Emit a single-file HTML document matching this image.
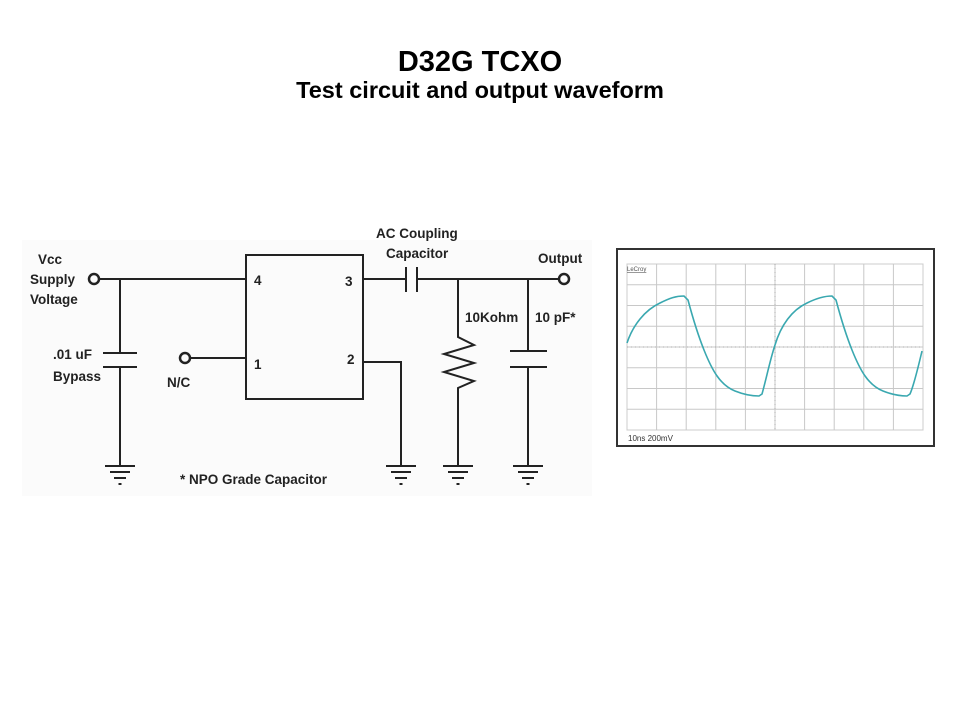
<!DOCTYPE html>
<html><head><meta charset="utf-8"><style>
html,body{margin:0;padding:0;background:#fff;width:960px;height:720px;overflow:hidden}
</style></head><body>
<svg width="960" height="720" xmlns="http://www.w3.org/2000/svg" font-family="Liberation Sans, sans-serif">
<text x="480" y="71" text-anchor="middle" font-size="29" font-weight="bold">D32G TCXO</text>
<text x="480" y="98" text-anchor="middle" font-size="23.5" font-weight="bold">Test circuit and output waveform</text>
<rect x="22" y="240" width="570" height="256" fill="#fbfbfb"/>
<g stroke="#222" stroke-width="2" fill="none">
<rect x="246" y="255" width="117" height="144"/>
<line x1="99" y1="279" x2="246" y2="279"/>
<circle cx="94" cy="279" r="5" stroke-width="2.5"/>
<line x1="120" y1="279" x2="120" y2="353"/>
<line x1="103" y1="353" x2="137" y2="353"/><line x1="103" y1="367" x2="137" y2="367"/>
<line x1="120" y1="367" x2="120" y2="466"/>
<circle cx="185" cy="358" r="5" stroke-width="2.5"/>
<line x1="190" y1="358" x2="246" y2="358"/>
<line x1="363" y1="279" x2="406" y2="279"/>
<line x1="406" y1="267" x2="406" y2="292"/><line x1="417" y1="267" x2="417" y2="292"/>
<line x1="417" y1="279" x2="559" y2="279"/>
<circle cx="564" cy="279" r="5" stroke-width="2.5"/>
<polyline points="458,279 458,337 474,345 444,354 474,363 444,372 474,381 458,388 458,466"/>
<line x1="528" y1="279" x2="528" y2="351"/>
<line x1="510" y1="351" x2="547" y2="351"/><line x1="510" y1="367" x2="547" y2="367"/>
<line x1="528" y1="367" x2="528" y2="466"/>
<polyline points="363,362 401,362 401,466"/>
</g>
<g stroke="#222" stroke-width="2">
<g transform="translate(120,0)"><line x1="-15" y1="466" x2="15" y2="466"/><line x1="-10" y1="472" x2="10" y2="472"/><line x1="-6" y1="478" x2="6" y2="478"/><line x1="-1.5" y1="484" x2="1.5" y2="484"/></g>
<g transform="translate(401,0)"><line x1="-15" y1="466" x2="15" y2="466"/><line x1="-10" y1="472" x2="10" y2="472"/><line x1="-6" y1="478" x2="6" y2="478"/><line x1="-1.5" y1="484" x2="1.5" y2="484"/></g>
<g transform="translate(458,0)"><line x1="-15" y1="466" x2="15" y2="466"/><line x1="-10" y1="472" x2="10" y2="472"/><line x1="-6" y1="478" x2="6" y2="478"/><line x1="-1.5" y1="484" x2="1.5" y2="484"/></g>
<g transform="translate(528,0)"><line x1="-15" y1="466" x2="15" y2="466"/><line x1="-10" y1="472" x2="10" y2="472"/><line x1="-6" y1="478" x2="6" y2="478"/><line x1="-1.5" y1="484" x2="1.5" y2="484"/></g>
</g>
<g font-size="13.5" font-weight="bold" fill="#222">
<text x="38" y="264">Vcc</text>
<text x="30" y="284">Supply</text>
<text x="30" y="304">Voltage</text>
<text x="53" y="359">.01 uF</text>
<text x="53" y="381">Bypass</text>
<text x="167" y="387">N/C</text>
<text x="254" y="285">4</text>
<text x="254" y="369">1</text>
<text x="345" y="286">3</text>
<text x="347" y="364">2</text>
<text x="376" y="238">AC Coupling</text>
<text x="386" y="258">Capacitor</text>
<text x="538" y="263">Output</text>
<text x="465" y="322">10Kohm</text>
<text x="535" y="322">10 pF*</text>
<text x="180" y="484">* NPO Grade Capacitor</text>
</g>
<rect x="617" y="249" width="317" height="197" fill="#fff" stroke="#333" stroke-width="2"/>
<g stroke="#c8c8c8" stroke-width="1" fill="none">
<rect x="627" y="264" width="296" height="166" stroke="#ccc"/>
<path d="M656.6 264V430M686.2 264V430M715.8 264V430M745.4 264V430M775 264V430M804.6 264V430M834.2 264V430M863.8 264V430M893.4 264V430M627 284.75H923M627 305.5H923M627 326.25H923M627 347H923M627 367.75H923M627 388.5H923M627 409.25H923"/>
</g>
<path d="M775 264V430M627 347H923" stroke="#aaa" stroke-dasharray="1 3"/>
<path d="M627 343 C633 325 645 310 660 303 C670 298 676 296 684 296 L688 300 C692 315 698 335 704 350 C712 370 720 385 735 391 C745 395 752 396 759 396 L762 394 C766 380 770 360 775 345 C781 325 792 310 807 303 C817 298 824 296 832 296 L836 300 C840 315 846 335 852 350 C860 370 868 385 883 391 C893 395 900 396 907 396 L910 394 C914 385 918 368 922 351" fill="none" stroke="#3aa8b0" stroke-width="1.6"/>
<text x="627" y="271" font-size="6" fill="#555" text-decoration="underline">LeCroy</text>
<text x="628" y="441" font-size="8" fill="#333">10ns 200mV</text>
</svg>
</body></html>
